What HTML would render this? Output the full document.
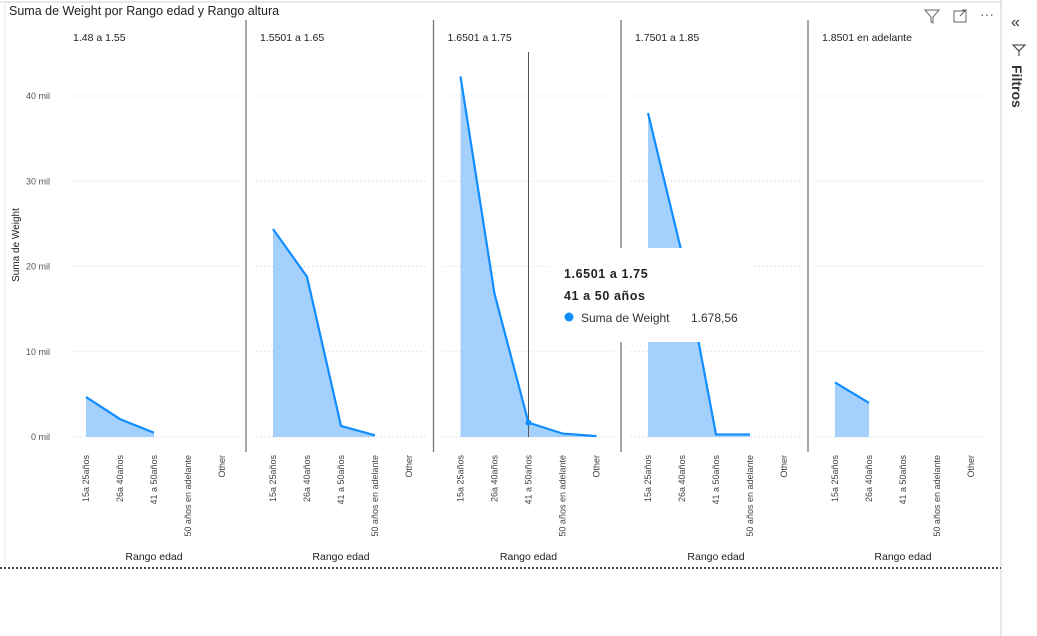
<!DOCTYPE html>
<html><head><meta charset="utf-8">
<style>
body{margin:0;width:1037px;height:636px;background:#fff;overflow:hidden;font-family:"Liberation Sans","DejaVu Sans",sans-serif;}
svg{position:absolute;left:0;top:0}
</style></head>
<body>
<svg id="chart" width="1037" height="636">
  <line x1="0" y1="2" x2="1001" y2="2" stroke="#d0d0d0"/>
  <line x1="5" y1="2" x2="5" y2="566" stroke="#e6e6e6"/>
  <line x1="1001" y1="0" x2="1001" y2="636" stroke="#cfcfcf"/>
  <line x1="0" y1="568" x2="1001" y2="568" stroke="#444" stroke-width="2" stroke-dasharray="2,2"/>
  <text x="9" y="15" font-size="12.5" fill="#222">Suma de Weight por Rango edad y Rango altura</text>
  <g><path d="M925 10 L939 10 L933 17 L933 23 L931 22 L931 17 Z" fill="none" stroke="#666" stroke-width="1"/></g>
  <g><rect x="954" y="11" width="12" height="11" fill="none" stroke="#666"/><path d="M960 16 L966 10 M962 10 L966 10 L966 14" stroke="#666" fill="none"/></g>
  <text x="980" y="19" font-size="14" fill="#666">···</text>
  <text x="1011" y="27" font-size="16" fill="#333">«</text>
  <path d="M1013 45 L1025 45 L1019 51 Z M1019 51 L1019 56" fill="none" stroke="#333"/>
  <text transform="translate(1012,65) rotate(90)" font-size="14" font-weight="bold" fill="#333">Filtros</text>
  <text transform="translate(19,245) rotate(-90)" font-size="10" text-anchor="middle" fill="#222">Suma de Weight</text>
  <g id="plot"></g>
</svg>
<script>
const panels=["1.48 a 1.55","1.5501 a 1.65","1.6501 a 1.75","1.7501 a 1.85","1.8501 en adelante"];
const categories=["15a 25años","26a 40años","41 a 50años","50 años en adelante","Other"];
const seriesP1=[4700,2100,500,null,null];
const seriesP2=[24400,18800,1300,200,null];
const seriesP3=[42300,16800,1678.56,400,100];
const seriesP4=[38000,21500,300,300,null];
const seriesP5=[6400,4000,null,null,null];
const yTicks=[0,10000,20000,30000,40000];
const yTickLabels=["0 mil","10 mil","20 mil","30 mil","40 mil"];
const allSeries=[seriesP1,seriesP2,seriesP3,seriesP4,seriesP5];
const NS="http://www.w3.org/2000/svg";
const g=document.getElementById('plot');
const y0=437,pxPer=341/40000;
function yS(v){return y0-v*pxPer;}
const panelStart=[59,246,433.5,621,808];
function xS(p,i){return panelStart[p]+27+i*34;}
function mk(t,a,parent){const e=document.createElementNS(NS,t);for(const k in a)e.setAttribute(k,a[k]);(parent||g).appendChild(e);return e;}
yTicks.forEach((t,i)=>{
  const tl=mk('text',{x:50,y:yS(t)+3,'font-size':9,'text-anchor':'end',fill:'#555'});
  tl.textContent=yTickLabels[i];
  
  
});
panels.forEach((name,p)=>{
  const ps=panelStart[p];
  const pg=mk('g',{});
  
  
  if(p>0){const s=mk('line',{x1:ps,y1:20,x2:ps,y2:452,stroke:'#777','stroke-width':1.3},pg);
    
    }
  const tt=mk('text',{x:ps+14,y:41,'font-size':10.5,fill:'#222'},pg);
  tt.textContent=name;
  
  
  yTicks.forEach(t=>{const gl=mk('line',{x1:ps+10,x2:ps+180,y1:yS(t),y2:yS(t),stroke:'#ccc','stroke-dasharray':'1,3'},pg);
    
    });
  const s=allSeries[p];
  const pts=[];s.forEach((v,i)=>{if(v!==null)pts.push([xS(p,i),yS(v)]);});
  if(pts.length){
    const d='M'+pts[0][0]+','+y0+' '+pts.map(q=>'L'+q[0]+','+q[1]).join(' ')+' L'+pts[pts.length-1][0]+','+y0+'Z';
    const a=mk('path',{d:d,fill:'#a3d0fc'},pg);
    
    
    const l=mk('polyline',{points:pts.map(q=>q.join(',')).join(' '),fill:'none',stroke:'#118dff','stroke-width':2.2},pg);
    
    
  }
  categories.forEach((c,i)=>{
    const x=xS(p,i);
    const ct=mk('text',{transform:`translate(${x+3},455) rotate(-90)`,'font-size':9,'text-anchor':'end',fill:'#444'},pg);
    ct.textContent=c;
    
    
  });
  const at=mk('text',{x:xS(p,2),y:560,'font-size':10.5,'text-anchor':'middle',fill:'#222'},pg);
  at.textContent='Rango edad';
  
  
});
// crosshair + hover point
const cx=xS(2,2);
const ch=mk('line',{x1:cx,y1:52,x2:cx,y2:y0,stroke:'#555','stroke-width':1});


const hp=mk('circle',{cx:cx,cy:yS(seriesP3[2]),r:3,fill:'#118dff'});


// tooltip
const tg=mk('g',{});


mk('rect',{x:549,y:248,width:203,height:94,fill:'#fff'},tg);
const t1=mk('text',{x:564,y:278,'font-size':12.5,'font-weight':'bold',fill:'#222','letter-spacing':'0.6'},tg);t1.textContent=panels[2];
const t2=mk('text',{x:564,y:300,'font-size':12.5,'font-weight':'bold',fill:'#222','letter-spacing':'0.6'},tg);t2.textContent=categories[2].replace('50años','50 años');
mk('circle',{cx:569,cy:317,r:4.5,fill:'#118dff'},tg);
const t3=mk('text',{x:581,y:322,'font-size':12,fill:'#333'},tg);t3.textContent='Suma de Weight';
const t4=mk('text',{x:691,y:322,'font-size':12,fill:'#333'},tg);t4.textContent='1.678,56';
</script>
</body></html>
